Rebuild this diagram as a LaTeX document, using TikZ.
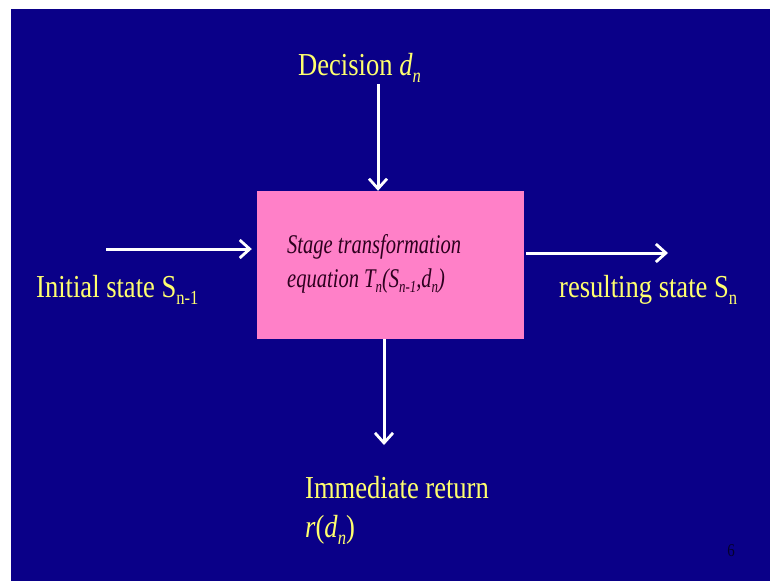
\documentclass[tikz,border=0pt]{standalone}
\usepackage{fontspec}
\setmainfont{Liberation Serif}[FakeStretch=0.83]
\newfontfamily\boxfont{Liberation Serif}[FakeStretch=0.76]
\usetikzlibrary{arrows.meta}
\definecolor{slideblue}{RGB}{10,0,136}
\definecolor{boxpink}{RGB}{255,128,200}
\definecolor{ltyellow}{RGB}{255,255,110}
\definecolor{boxtext}{RGB}{45,0,30}
\definecolor{pagenum}{RGB}{5,0,45}
\newcommand\ysub[1]{\raisebox{-7pt}{\fontsize{20}{20}\selectfont #1}}
\newcommand\bsub[1]{\raisebox{-5pt}{\fontsize{17}{17}\selectfont #1}}
\tikzset{
  arr/.style={draw=white, line width=3pt, -{Straight Barb[length=10pt,width=18pt,line width=2.8pt]}},
  lbl/.style={text=ltyellow, inner sep=0pt, anchor=base west, font=\fontsize{32}{36}\selectfont},
  boxline/.style={text=boxtext, inner sep=0pt, anchor=base west, font=\boxfont\itshape\fontsize{27}{30}\selectfont},
}
\begin{document}
\begin{tikzpicture}[x=1pt,y=-1pt]
\useasboundingbox (0,0) rectangle (770,581);
\fill[white] (0,0) rectangle (770,581);
\fill[slideblue] (11,9) rectangle (770,581);
% central box
\node[fill=boxpink, draw=none, minimum width=267pt, minimum height=148pt, inner sep=0pt] (box) at (390.5,265) {};
\node[boxline] (l1) at (287,253) {Stage transformation};
\node[boxline] (l2) at (287,287) {equation \textit{T}\bsub{n}(\textit{S}\bsub{n-1},\textit{d}\bsub{n})};
% labels
\node[lbl] (dec) at (298,75) {Decision \textit{d}\ysub{\textit{n}}};
\node[lbl] (init) at (36,297) {Initial state S\ysub{n-1}};
\node[lbl] (res) at (559,297) {resulting state S\ysub{n}};
\node[lbl] (imm) at (305,498) {Immediate return};
\node[lbl] (ret) at (305,537) {\textit{r}(\textit{d}\ysub{\textit{n}})};
\node[text=pagenum, inner sep=0pt, font=\fontsize{18}{18}\selectfont] (pg) at (731,551) {6};
% arrow end points
\coordinate (dtop) at (378,84);
\coordinate (lstart) at (106,249);
\coordinate (rend) at (668,253);
\coordinate (bend) at (384,445);
% connectors
\draw[arr] (dtop) -- (dtop |- box.north);
\draw[arr, shorten >=5pt] (lstart) -- (lstart -| box.west);
\draw[arr] ([xshift=2pt]box.east |- rend) -- (rend);
\draw[arr] (box.south -| bend) -- (bend);
\end{tikzpicture}
\end{document}
